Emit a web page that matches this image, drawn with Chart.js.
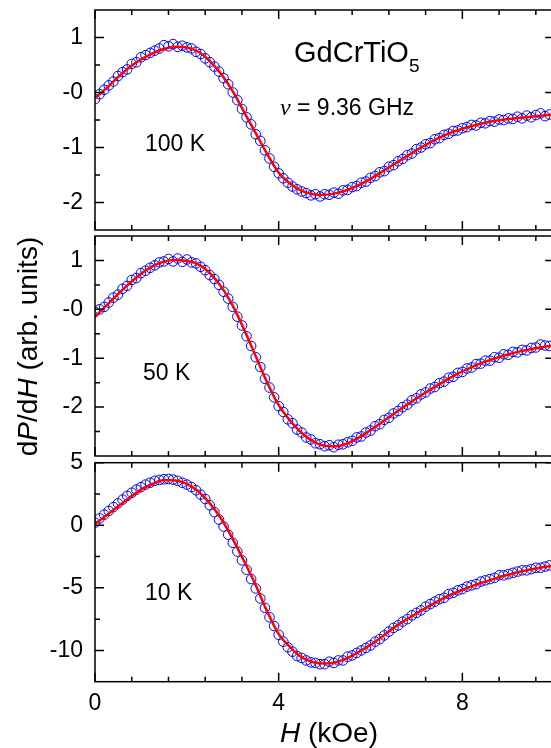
<!DOCTYPE html>
<html>
<head>
<meta charset="utf-8">
<script src="https://cdn.jsdelivr.net/npm/chart.js@4.4.1/dist/chart.umd.min.js"></script>
<style>
    html, body { margin: 0; padding: 0; background: #fff; overflow: hidden; }
    #painel { position: relative; width: 551px; height: 748px; overflow: hidden; background: #fff; }
    #painel canvas { position: absolute; left: 0; top: 0; }
</style>
</head>
<body>
<div id="painel">
    <canvas id="grafico100K" width="560" height="748"></canvas>
    <canvas id="grafico50K" width="560" height="748"></canvas>
    <canvas id="grafico10K" width="560" height="748"></canvas>
</div>
<script>
// campo H (kOe) dos pontos medidos
const campoH = [0,0.1,0.2,0.3,0.4,0.5,0.6,0.7,0.8,0.9,
    1,1.1,1.2,1.3,1.4,1.5,1.6,1.7,1.8,1.9,
    2,2.1,2.2,2.3,2.4,2.5,2.6,2.7,2.8,2.9,
    3,3.1,3.2,3.3,3.4,3.5,3.6,3.7,3.8,3.9,
    4,4.1,4.2,4.3,4.4,4.5,4.6,4.7,4.8,4.9,
    5,5.1,5.2,5.3,5.4,5.5,5.6,5.7,5.8,5.9,
    6,6.1,6.2,6.3,6.4,6.5,6.6,6.7,6.8,6.9,
    7,7.1,7.2,7.3,7.4,7.5,7.6,7.7,7.8,7.9,
    8,8.1,8.2,8.3,8.4,8.5,8.6,8.7,8.8,8.9,
    9,9.1,9.2,9.3,9.4,9.5,9.6,9.7,9.8,9.9];

// campo H (kOe) da curva ajustada
const campoAjuste = [0,0.25,0.5,0.75,1,1.25,1.5,1.75,2,2.25,2.5,2.75,3,3.25,3.5,3.75,4,4.25,4.5,4.75,
    5,5.25,5.5,5.75,6,6.25,6.5,6.75,7,7.25,7.5,7.75,8,8.25,8.5,8.75,9,9.25,9.5,9.75,10];

const sinal100K = [-0.12,-0.03,0.05,0.13,0.20,0.30,0.37,0.42,0.52,0.55,
    0.64,0.68,0.72,0.76,0.80,0.86,0.84,0.88,0.83,0.85,
    0.82,0.80,0.74,0.70,0.62,0.55,0.47,0.38,0.26,0.15,
    0.00,-0.14,-0.30,-0.45,-0.58,-0.76,-0.88,-1.05,-1.20,-1.35,
    -1.47,-1.56,-1.64,-1.71,-1.76,-1.80,-1.83,-1.87,-1.85,-1.89,
    -1.85,-1.86,-1.82,-1.84,-1.78,-1.77,-1.72,-1.70,-1.64,-1.62,
    -1.55,-1.52,-1.45,-1.43,-1.35,-1.32,-1.25,-1.21,-1.14,-1.11,
    -1.03,-1.00,-0.94,-0.92,-0.85,-0.83,-0.77,-0.75,-0.70,-0.69,
    -0.65,-0.63,-0.59,-0.60,-0.55,-0.56,-0.52,-0.53,-0.49,-0.50,
    -0.47,-0.48,-0.44,-0.47,-0.42,-0.45,-0.41,-0.38,-0.43,-0.40];
const ajuste100K = [-0.10,0.08,0.28,0.46,0.60,0.71,0.79,0.83,0.82,0.74,0.57,0.33,0.02,-0.36,-0.74,-1.12,-1.46,-1.66,-1.79,-1.85,
    -1.86,-1.83,-1.77,-1.68,-1.57,-1.44,-1.31,-1.18,-1.05,-0.93,-0.82,-0.73,-0.66,-0.60,-0.55,-0.51,-0.48,-0.46,-0.44,-0.42,-0.40];

const sinal50K = [-0.05,0.00,0.05,0.14,0.24,0.30,0.42,0.48,0.60,0.64,
    0.74,0.79,0.85,0.90,0.96,0.98,1.03,0.98,1.04,0.97,
    1.02,0.96,0.94,0.87,0.80,0.70,0.62,0.50,0.36,0.22,
    0.05,-0.15,-0.33,-0.55,-0.75,-0.98,-1.18,-1.42,-1.60,-1.80,
    -1.98,-2.10,-2.25,-2.33,-2.46,-2.52,-2.62,-2.66,-2.74,-2.76,
    -2.80,-2.78,-2.82,-2.77,-2.76,-2.72,-2.69,-2.62,-2.60,-2.52,
    -2.48,-2.39,-2.35,-2.26,-2.22,-2.13,-2.08,-2.00,-1.95,-1.86,
    -1.82,-1.74,-1.70,-1.62,-1.59,-1.51,-1.48,-1.40,-1.38,-1.30,
    -1.28,-1.21,-1.19,-1.12,-1.11,-1.05,-1.05,-0.98,-0.99,-0.92,
    -0.93,-0.87,-0.88,-0.83,-0.84,-0.79,-0.78,-0.72,-0.74,-0.75];
const ajuste50K = [-0.15,0.08,0.31,0.53,0.73,0.88,0.98,1.01,0.99,0.92,0.74,0.46,0.07,-0.42,-0.96,-1.50,-1.96,-2.28,-2.53,-2.70,
    -2.79,-2.80,-2.74,-2.62,-2.47,-2.31,-2.14,-1.98,-1.82,-1.67,-1.53,-1.39,-1.27,-1.16,-1.07,-0.99,-0.92,-0.86,-0.81,-0.77,-0.74];

const sinal10K = [0.2,0.55,0.85,1.15,1.45,1.75,2.05,2.35,2.6,2.85,
    3.05,3.25,3.4,3.55,3.62,3.68,3.7,3.65,3.55,3.4,
    3.25,3.05,2.8,2.45,2.1,1.6,1.05,0.45,-0.1,-0.75,
    -1.4,-2.1,-2.8,-3.55,-4.3,-5.05,-5.85,-6.6,-7.35,-8.05,
    -8.75,-9.3,-9.75,-10.1,-10.45,-10.6,-10.8,-10.95,-11.0,-11.1,
    -11.1,-10.9,-11.0,-10.8,-10.8,-10.5,-10.4,-10.2,-10.0,-9.8,
    -9.6,-9.3,-9.1,-8.8,-8.5,-8.2,-8.0,-7.7,-7.5,-7.2,
    -7.0,-6.8,-6.5,-6.3,-6.1,-5.9,-5.8,-5.5,-5.4,-5.2,
    -5.1,-4.9,-4.8,-4.7,-4.5,-4.4,-4.3,-4.2,-4.0,-4.0,
    -3.9,-3.8,-3.7,-3.6,-3.6,-3.5,-3.4,-3.4,-3.3,-3.2];
const ajuste10K = [0.1,0.8,1.5,2.2,2.85,3.3,3.62,3.58,3.3,2.7,1.75,0.5,-1.1,-2.9,-4.8,-6.9,-8.7,-9.75,-10.55,-10.95,
    -11.05,-10.95,-10.6,-10.1,-9.55,-8.9,-8.2,-7.6,-7.05,-6.5,-6.0,-5.55,-5.15,-4.8,-4.5,-4.2,-3.95,-3.72,-3.52,-3.35,-3.2];

// ticks
const ticksX = [0, 4, 8];
const ticksXMenores = [0.8, 1.6, 2.4, 3.2, 4.8, 5.6, 6.4, 7.2, 8.8, 9.6];

const ticksY100K = [-2, -1, 0, 1];
const rotulosY100K = ['-2', '-1', '-0', '1'];
const menoresY100K = [-1.5, -0.5, 0.5];

const ticksY50K = [-2, -1, 0, 1];
const rotulosY50K = ['-2', '-1', '-0', '1'];
const menoresY50K = [-2.5, -1.5, -0.5, 0.5];

const ticksY10K = [-10, -5, 0, 5];
const rotulosY10K = ['-10', '-5', '0', '5'];
const menoresY10K = [-7.5, -2.5, 2.5];

const FONTE = 'Arial, "Liberation Sans", sans-serif';
Chart.defaults.font.family = FONTE;
Chart.defaults.color = '#000';

function escreverTrechos(ctx, texto) {
    ctx.save();
    ctx.translate(texto.x, texto.y);
    if (texto.girar) ctx.rotate(-Math.PI / 2);
    ctx.fillStyle = '#000';
    ctx.textBaseline = 'alphabetic';
    ctx.textAlign = 'left';
    let largura = 0;
    texto.trechos.forEach(function (tr) {
        ctx.font = tr.fonte;
        largura += ctx.measureText(tr.t).width;
    });
    let x = texto.centralizar ? -largura / 2 : 0;
    texto.trechos.forEach(function (tr) {
        ctx.font = tr.fonte;
        ctx.fillText(tr.t, x, tr.dy || 0);
        x += ctx.measureText(tr.t).width;
    });
    ctx.restore();
}

// moldura com ticks para dentro (estilo Origin) + textos
const molduraPlugin = {
    id: 'moldura',
    afterDraw(chart, args, opts) {
        const ctx = chart.ctx;
        const area = chart.chartArea;
        const sx = chart.scales.x;
        const sy = chart.scales.y;

        ctx.save();
        ctx.strokeStyle = '#000';
        ctx.lineWidth = 1.5;
        ctx.strokeRect(area.left, area.top, area.right - area.left, area.bottom - area.top);

        ctx.beginPath();
        ticksX.forEach(function (v) {
            const px = sx.getPixelForValue(v);
            ctx.moveTo(px, area.bottom); ctx.lineTo(px, area.bottom - 9);
            ctx.moveTo(px, area.top); ctx.lineTo(px, area.top + 9);
        });
        ticksXMenores.forEach(function (v) {
            const px = sx.getPixelForValue(v);
            ctx.moveTo(px, area.bottom); ctx.lineTo(px, area.bottom - 5);
            ctx.moveTo(px, area.top); ctx.lineTo(px, area.top + 5);
        });
        opts.maiores.forEach(function (v) {
            const py = sy.getPixelForValue(v);
            ctx.moveTo(area.left, py); ctx.lineTo(area.left + 9, py);
            ctx.moveTo(area.right, py); ctx.lineTo(area.right - 9, py);
        });
        opts.menores.forEach(function (v) {
            const py = sy.getPixelForValue(v);
            ctx.moveTo(area.left, py); ctx.lineTo(area.left + 5, py);
        });
        ctx.stroke();
        ctx.restore();

        (opts.textos || []).forEach(function (t) { escreverTrechos(ctx, t); });
    }
};

function plotarPainel(idCanvas, sinal, ajuste, minY, maxY, ticksY, rotulosY, menoresY, topo, base, comEixoX, textos) {
    const pontos = [];
    for (let i = 0; i < campoH.length; i++) {
        pontos.push({ x: campoH[i], y: sinal[i] });
    }
    const curva = [];
    for (let i = 0; i < campoAjuste.length; i++) {
        curva.push({ x: campoAjuste[i], y: ajuste[i] });
    }

    const config = {
        type: 'scatter',
        data: {
            datasets: [{
                label: 'ajuste',
                data: curva,
                showLine: true,
                borderColor: 'rgb(255, 0, 0)',
                borderWidth: 2.5,
                pointRadius: 0,
                cubicInterpolationMode: 'monotone',
                order: 0,
                clip: 0
            }, {
                label: 'dados',
                data: pontos,
                showLine: false,
                pointStyle: 'circle',
                pointRadius: 4.8,
                pointBorderWidth: 1,
                borderColor: 'rgb(0, 0, 255)',
                backgroundColor: 'rgba(0, 0, 0, 0)',
                order: 1,
                clip: 0
            }]
        },
        options: {
            responsive: false,
            animation: false,
            devicePixelRatio: 1,
            events: [],
            layout: { padding: { top: topo, bottom: base, left: 0, right: 4.6 } },
            plugins: {
                legend: { display: false },
                tooltip: { enabled: false },
                moldura: { maiores: ticksY, menores: menoresY, textos: textos }
            },
            scales: {
                x: {
                    type: 'linear',
                    min: 0,
                    max: 10,
                    display: comEixoX,
                    grid: { display: false, drawTicks: false },
                    border: { display: false },
                    ticks: {
                        padding: 8,
                        font: { size: 23 },
                        autoSkip: false,
                        maxRotation: 0,
                        callback: function (v) { return String(v); }
                    },
                    afterBuildTicks: function (s) { s.ticks = ticksX.map(function (v) { return { value: v }; }); },
                    afterFit: function (s) {
                        s.height = comEixoX ? 66.3 : 0;
                        s.paddingLeft = 0;
                        s.paddingRight = 0;
                    }
                },
                y: {
                    type: 'linear',
                    min: minY,
                    max: maxY,
                    grid: { display: false, drawTicks: false },
                    border: { display: false },
                    ticks: {
                        padding: 12,
                        font: { size: 23 },
                        callback: function (v, i) { return rotulosY[i]; }
                    },
                    afterBuildTicks: function (s) { s.ticks = ticksY.map(function (v) { return { value: v }; }); },
                    afterFit: function (s) { s.width = 95; s.paddingTop = 0; s.paddingBottom = 0; }
                }
            }
        },
        plugins: [molduraPlugin]
    };

    new Chart(document.getElementById(idCanvas), config);
}

plotarPainel('grafico100K', sinal100K, ajuste100K, -2.5, 1.5, ticksY100K, rotulosY100K, menoresY100K, 10, 518, false, [
    { x: 294, y: 61.5, trechos: [{ t: 'GdCrTiO', fonte: '29px ' + FONTE }, { t: '5', fonte: '19px ' + FONTE, dy: 10 }] },
    { x: 280, y: 115, trechos: [{ t: 'ν', fonte: 'italic 24px "Liberation Serif", serif' }, { t: ' = 9.36 GHz', fonte: '23px ' + FONTE }] },
    { x: 145, y: 151, trechos: [{ t: '100 K', fonte: '23px ' + FONTE }] }
]);

plotarPainel('grafico50K', sinal50K, ajuste50K, -3, 1.5, ticksY50K, rotulosY50K, menoresY50K, 236, 292, false, [
    { x: 143, y: 380, trechos: [{ t: '50 K', fonte: '23px ' + FONTE }] }
]);

plotarPainel('grafico10K', sinal10K, ajuste10K, -12.5, 5, ticksY10K, rotulosY10K, menoresY10K, 462.7, 0, true, [
    { x: 145, y: 600, trechos: [{ t: '10 K', fonte: '23px ' + FONTE }] },
    { x: 280, y: 742, trechos: [{ t: 'H', fonte: 'italic 28px ' + FONTE }, { t: ' (kOe)', fonte: '28px ' + FONTE }] },
    { x: 37, y: 346.5, girar: true, centralizar: true, trechos: [
        { t: 'd', fonte: '28px ' + FONTE },
        { t: 'P', fonte: 'italic 28px ' + FONTE },
        { t: '/d', fonte: '28px ' + FONTE },
        { t: 'H', fonte: 'italic 28px ' + FONTE },
        { t: ' (arb. units)', fonte: '28px ' + FONTE }
    ] }
]);
</script>
</body>
</html>
